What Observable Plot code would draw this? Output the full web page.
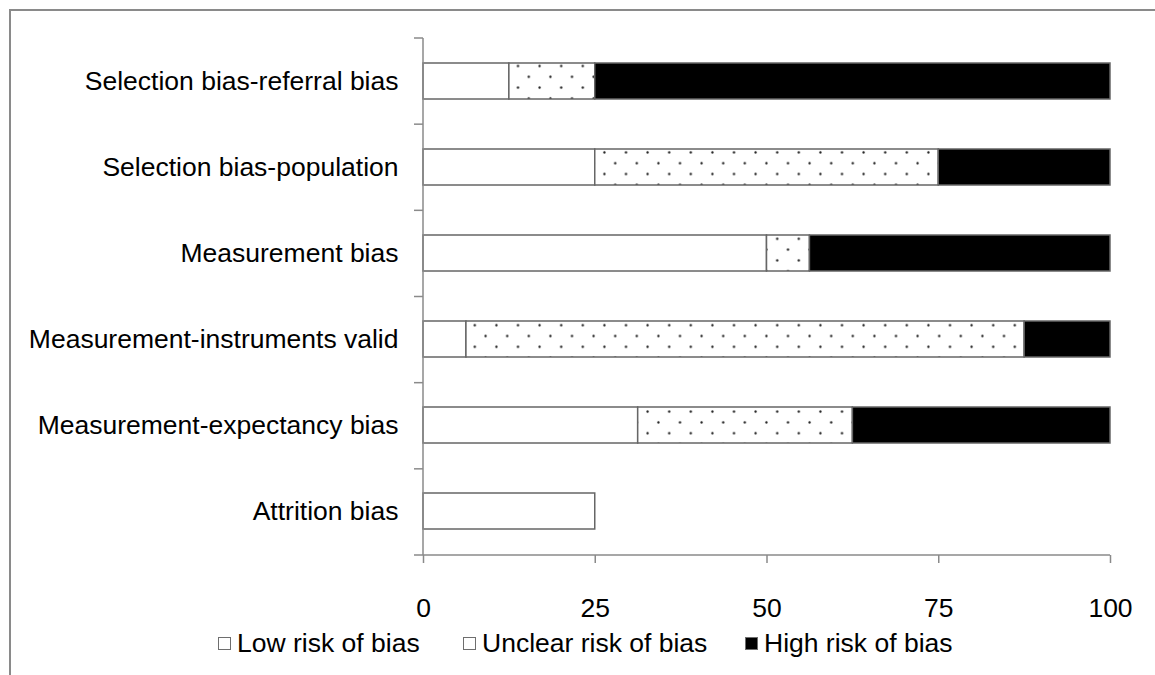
<!DOCTYPE html>
<html>
<head>
<meta charset="utf-8">
<script src="https://cdn.jsdelivr.net/npm/d3@7"></script>
<script src="https://cdn.jsdelivr.net/npm/@observablehq/plot@0.6"></script>
<style>
  html, body { margin: 0; padding: 0; background: #fff; }
  body { width: 1155px; height: 675px; overflow: hidden; position: relative; font-family: "Liberation Sans", Arial, sans-serif; }
  #frame { position: absolute; left: 9px; top: 9px; width: 1200px; height: 700px; border-top: 2px solid #8a8a8a; border-left: 2px solid #8a8a8a; pointer-events: none; }
  #legend { position: absolute; left: 0; top: 625px; width: 1155px; height: 36px; font-size: 26.5px; line-height: 36px; color: #000; }
  .item { position: absolute; top: 0; white-space: nowrap; }
  .sw { display: inline-block; width: 11px; height: 11px; border: 1.5px solid #6e6e6e; vertical-align: middle; margin-right: 6px; position: relative; top: -2px; }
</style>
</head>
<body>
<div id="chart"></div>
<div id="legend"></div>
<div id="frame"></div>
<script>
const categories = [
  "Selection bias-referral bias",
  "Selection bias-population",
  "Measurement bias",
  "Measurement-instruments valid",
  "Measurement-expectancy bias",
  "Attrition bias"
];
const series = ["Low risk of bias", "Unclear risk of bias", "High risk of bias"];
const lowRisk = [12.5, 25, 50, 6.25, 31.25, 25];
const unclearRisk = [12.5, 50, 6.25, 81.25, 31.25, 0];
const highRisk = [75, 25, 43.75, 12.5, 37.5, 0];
const xTicks = [0, 25, 50, 75, 100];

const seriesValues = [lowRisk, unclearRisk, highRisk];
const fills = {"Low risk of bias": "white", "Unclear risk of bias": "url(#dots)", "High risk of bias": "black"};
const legendX = [218, 463, 745];

const data = series.flatMap((s, i) =>
  categories.map((c, j) => ({category: c, series: s, value: seriesValues[i][j]}))
).filter(d => d.value > 0);

const W = 1155, H = 625, ML = 423, MR = 45, MT = 38, MB = 70;

function boundaryTicks(index, scales, values, dim) {
  const g = d3.create("svg:g").attr("stroke", "#8a8a8a").attr("stroke-width", 1.5).attr("fill", "none");
  const top = dim.marginTop, bottom = dim.height - dim.marginBottom;
  const x0 = scales.x(0);
  const step = (bottom - top) / categories.length;
  for (let k = 0; k <= categories.length; k++) {
    const y = top + k * step;
    g.append("line").attr("x1", x0 - 9).attr("x2", x0).attr("y1", y).attr("y2", y);
  }
  g.append("line").attr("x1", x0).attr("x2", dim.width - dim.marginRight).attr("y1", bottom).attr("y2", bottom);
  g.append("line").attr("x1", x0).attr("x2", x0).attr("y1", top).attr("y2", bottom);
  return g.node();
}

const plot = Plot.plot({
  width: W, height: H,
  marginLeft: ML, marginRight: MR, marginTop: MT, marginBottom: MB,
  style: {fontSize: "26.5px", fontFamily: "'Liberation Sans', Arial, sans-serif", color: "#000", background: "transparent"},
  x: {domain: [0, 100], ticks: xTicks},
  y: {domain: categories, paddingInner: 0.58, paddingOuter: 0.29},
  color: {type: "identity"},
  marks: [
    Plot.barX(data, Plot.stackX({x: "value", y: "category", z: "series", fill: d => fills[d.series], stroke: "#666", strokeWidth: 1.5})),
    boundaryTicks,
    Plot.axisX({ticks: xTicks, tickSize: 8, tickPadding: 35, stroke: "#8a8a8a", strokeWidth: 1.5, label: null}),
    Plot.axisY({tickSize: 0, tickPadding: 25, label: null})
  ]
});

const ns = "http://www.w3.org/2000/svg";
const defs = document.createElementNS(ns, "defs");
defs.innerHTML = '<pattern id="dots" patternUnits="userSpaceOnUse" x="512.6" y="60.6" width="21.6" height="21.6">' +
  '<rect width="21.6" height="21.6" fill="white"/>' +
  '<circle cx="5.4" cy="5.4" r="1.15" fill="#1a1a1a"/>' +
  '<circle cx="16.2" cy="16.2" r="1.15" fill="#1a1a1a"/></pattern>';
plot.insertBefore(defs, plot.firstChild);
document.getElementById("chart").appendChild(plot);

const legend = document.getElementById("legend");
series.forEach((s, i) => {
  const it = document.createElement("div");
  it.className = "item";
  it.style.left = legendX[i] + "px";
  const sw = document.createElement("span");
  sw.className = "sw";
  sw.style.background = s === "High risk of bias" ? "black" : "white";
  it.appendChild(sw);
  it.appendChild(document.createTextNode(s));
  legend.appendChild(it);
});
</script>
</body>
</html>
